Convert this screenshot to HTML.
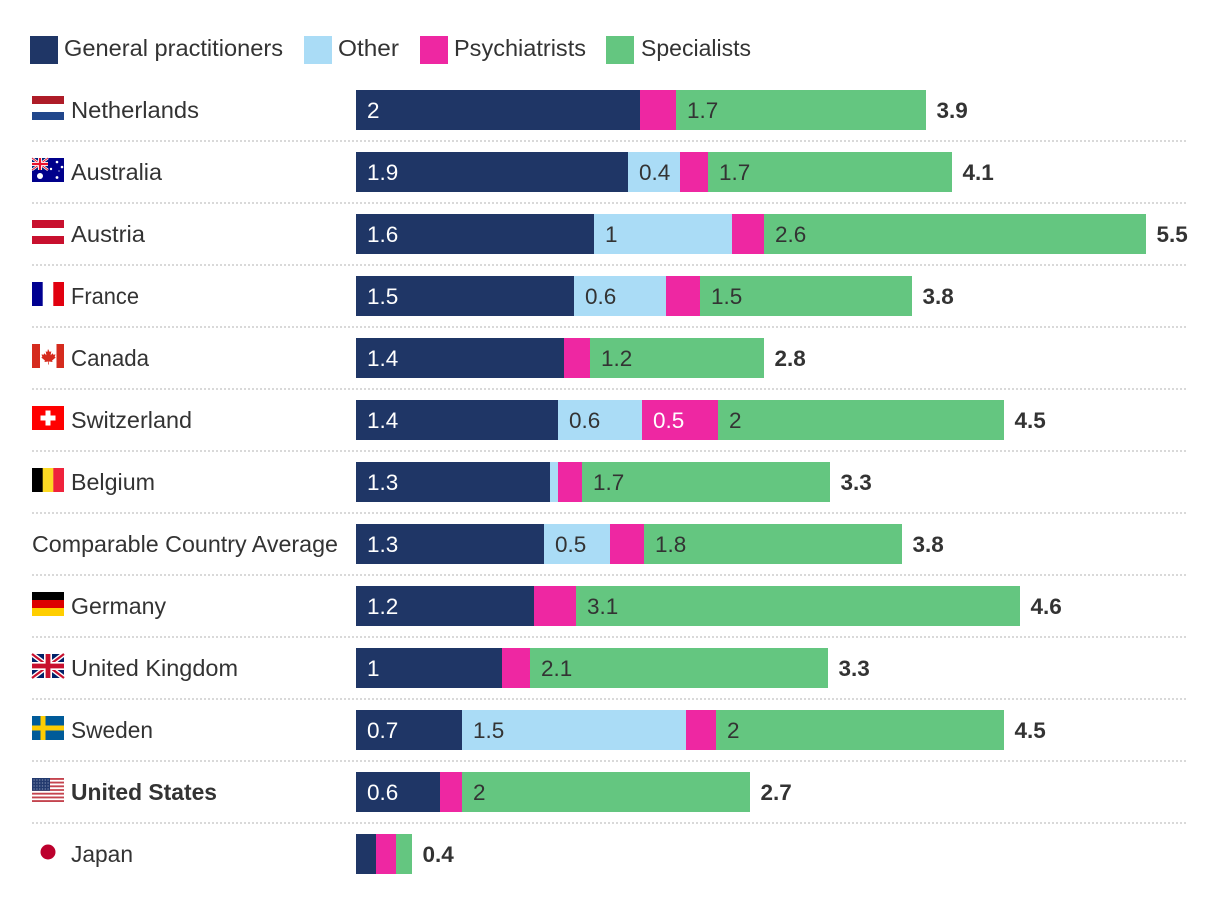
<!DOCTYPE html>
<html lang="en">
<head>
<meta charset="utf-8">
<title>Physicians per 1,000 population by type</title>
<style>
html,body{margin:0;padding:0;background:#fff;width:1220px;height:906px;overflow:hidden}
svg{display:block}
text{font-family:"Liberation Sans",Arial,sans-serif;font-size:23px;fill:#333}
text.num{font-size:22.5px}
</style>
</head>
<body>
<svg id="chart" xmlns="http://www.w3.org/2000/svg" width="1220" height="906" viewBox="0 0 1220 906">
  <g id="legend">
    <g>
      <rect x="30" y="36" width="28" height="28" fill="#1f3666"/>
      <text x="64" y="56" textLength="219" lengthAdjust="spacingAndGlyphs">General practitioners</text>
    </g>
    <g>
      <rect x="304" y="36" width="28" height="28" fill="#aadcf6"/>
      <text x="338" y="56" textLength="61" lengthAdjust="spacingAndGlyphs">Other</text>
    </g>
    <g>
      <rect x="420" y="36" width="28" height="28" fill="#ee27a2"/>
      <text x="454" y="56" textLength="132" lengthAdjust="spacingAndGlyphs">Psychiatrists</text>
    </g>
    <g>
      <rect x="606" y="36" width="28" height="28" fill="#64c680"/>
      <text x="641" y="56" textLength="110" lengthAdjust="spacingAndGlyphs">Specialists</text>
    </g>
  </g>

  <g id="flags">
    <g transform="translate(32,96)">
      <rect width="32" height="8" fill="#ae1c28"/><rect y="16" width="32" height="8" fill="#21468b"/>
    </g>
    <g transform="translate(32,158)">
      <rect width="32" height="24" fill="#00008b"/>
      <rect width="16" height="12" fill="#00247d"/>
      <path d="M0 0L16 12M16 0L0 12" stroke="#fff" stroke-width="2.4"/>
      <path d="M0 0L16 12M16 0L0 12" stroke="#e8112d" stroke-width="0.9"/>
      <path d="M8 0V12M0 6H16" stroke="#fff" stroke-width="4"/>
      <path d="M8 0V12M0 6H16" stroke="#e8112d" stroke-width="2.2"/>
      <circle cx="8" cy="18" r="3" fill="#fff"/>
      <circle cx="25" cy="4" r="1.3" fill="#fff"/><circle cx="30" cy="9" r="1.3" fill="#fff"/>
      <circle cx="19" cy="11" r="1.2" fill="#fff"/><circle cx="25" cy="19.5" r="1.4" fill="#fff"/>
      <circle cx="27" cy="13" r="0.6" fill="#fff"/>
    </g>
    <g transform="translate(32,220)">
      <rect width="32" height="8" fill="#c8102e"/><rect y="16" width="32" height="8" fill="#c8102e"/>
    </g>
    <g transform="translate(32,282)">
      <rect width="10.700" height="24" fill="#000091"/><rect x="21.300" width="10.700" height="24" fill="#e1000f"/>
    </g>
    <g transform="translate(32,344)">
      <rect width="8" height="24" fill="#d52b1e"/><rect x="24.500" width="7.500" height="24" fill="#d52b1e"/>
      <path d="M16 5l1.700 3 1.600-.8-.7 4 2.200-2 .5 1.500 2.200-.3-.8 2.500 1 .6-3.600 3 .4 1.500-3.700-.5.100 3h-.8l.1-3-3.700.5.400-1.500-3.600-3 1-.6-.8-2.500 2.200.3.500-1.500 2.200 2-.7-4 1.600.8z" fill="#d52b1e"/>
    </g>
    <g transform="translate(32,406)">
      <rect width="32" height="24" fill="#ff0000"/>
      <rect x="13.500" y="4.500" width="5" height="15" fill="#fff"/><rect x="8.500" y="9.500" width="15" height="5" fill="#fff"/>
    </g>
    <g transform="translate(32,468)">
      <rect width="11" height="24" fill="#000"/><rect x="10.700" width="10.700" height="24" fill="#fdda24"/><rect x="21.300" width="10.700" height="24" fill="#ef233c"/>
    </g>
    <g transform="translate(32,592)">
      <rect width="32" height="8" fill="#000"/><rect y="8" width="32" height="8" fill="#dd0000"/><rect y="16" width="32" height="8" fill="#ffce00"/>
    </g>
    <g transform="translate(32,654)">
      <rect width="32" height="24" fill="#012169"/>
      <path d="M0 0L32 24M32 0L0 24" stroke="#fff" stroke-width="5"/>
      <path d="M0 0L32 24M32 0L0 24" stroke="#c8102e" stroke-width="2.200"/>
      <path d="M16 0V24M0 12H32" stroke="#fff" stroke-width="8"/>
      <path d="M16 0V24M0 12H32" stroke="#c8102e" stroke-width="4.800"/>
    </g>
    <g transform="translate(32,716)">
      <rect width="32" height="24" fill="#005b99"/>
      <rect x="8.500" width="5" height="24" fill="#fecc02"/><rect y="9.500" width="32" height="5" fill="#fecc02"/>
    </g>
    <g transform="translate(32,778)">
      <rect width="32" height="24" fill="#fff"/>
      <path d="M0 .9H32M0 4.600H32M0 8.300H32M0 12H32M0 15.700H32M0 19.400H32M0 23.100H32" stroke="#c4444f" stroke-width="1.850"/>
      <rect width="18" height="12.800" fill="#233a6e"/>
      <path d="M1.500 2H17M1.500 5H17M1.500 8H17M1.500 11H17" stroke="#8f9dbb" stroke-width="1.100" stroke-dasharray="1.200 1.600"/>
    </g>
    <g transform="translate(32,840)">
      <circle cx="16" cy="12" r="7.500" fill="#bc002d"/>
    </g>
  </g>

  <g id="separators"></g>
  <g id="rows"></g>
</svg>

<script>
const countries = ["Netherlands","Australia","Austria","France","Canada","Switzerland","Belgium","Comparable Country Average","Germany","United Kingdom","Sweden","United States","Japan"];
const gpValues    = [1.977,1.894,1.657,1.518,1.448,1.406,1.351,1.309,1.239,1.016,0.738,0.585,0.139];
const otherValues = [0,0.362,0.961,0.641,0,0.585,0.056,0.459,0,0,1.559,0,0];
const psychValues = [0.251,0.195,0.223,0.237,0.181,0.529,0.167,0.237,0.292,0.195,0.209,0.153,0.139];
const specValues  = [1.741,1.699,2.659,1.476,1.211,1.991,1.727,1.796,3.091,2.075,2.005,2.005,0.111];
const gpLabels    = ["2","1.9","1.6","1.5","1.4","1.4","1.3","1.3","1.2","1","0.7","0.6",""];
const otherLabels = ["","0.4","1","0.6","","0.6","","0.5","","","1.5","",""];
const psychLabels = ["","","","","","0.5","","","","","","",""];
const specLabels  = ["1.7","1.7","2.6","1.5","1.2","2","1.7","1.8","3.1","2.1","2","2",""];
const totalLabels = ["3.9","4.1","5.5","3.8","2.8","4.5","3.3","3.8","4.6","3.3","4.5","2.7","0.4"];
const boldCountries = ["United States"];
const seriesNames = ["general-practitioners","other","psychiatrists","specialists"];
const seriesColors = ["#1f3666","#aadcf6","#ee27a2","#64c680"];
const seriesTextColors = ["#fff","#333","#fff","#333"];

const NS = "http://www.w3.org/2000/svg";
const xDomainMax = 5.5;
const countryLabelFit = {"Netherlands":128,"Australia":91,"Austria":74,"France":68,"Canada":78,"Switzerland":121,"Belgium":84,"Comparable Country Average":306,"Germany":95,"United Kingdom":167,"Sweden":82,"United States":146,"Japan":62};
function xScale(v){ return Math.round(356 + v / xDomainMax * 790); }
function rowTop(i){ return 90 + i * 62; }

const rowsLayer = document.getElementById("rows");
const sepLayer = document.getElementById("separators");
const seriesValues = [gpValues, otherValues, psychValues, specValues];
const seriesLabels = [gpLabels, otherLabels, psychLabels, specLabels];

countries.forEach(function(country, i){
  const top = rowTop(i);
  const baseline = top + 28;

  if (i < countries.length - 1) {
    const sep = document.createElementNS(NS,"line");
    
    
    sep.setAttribute("x1", 32);
    sep.setAttribute("x2", 1188);
    sep.setAttribute("y1", top + 51);
    sep.setAttribute("y2", top + 51);
    sep.setAttribute("stroke", "#d9d9d9");
    sep.setAttribute("stroke-width", 2);
    sep.setAttribute("stroke-dasharray", "2 2");
    sepLayer.appendChild(sep);
  }

  const label = document.createElementNS(NS,"text");
  
  
  label.setAttribute("x", country === "Comparable Country Average" ? 32 : 71);
  label.setAttribute("y", baseline);
  label.setAttribute("textLength", countryLabelFit[country]);
  label.setAttribute("lengthAdjust", "spacingAndGlyphs");
  if (boldCountries.indexOf(country) >= 0) label.setAttribute("font-weight", "700");
  label.textContent = country;
  rowsLayer.appendChild(label);

  let cum = 0;
  seriesValues.forEach(function(values, s){
    const v = values[i];
    if (v <= 0) return;
    const x0 = xScale(cum);
    const x1 = xScale(cum + v);
    cum += v;
    const rect = document.createElementNS(NS,"rect");
    
    
    rect.setAttribute("data-series", seriesNames[s]);
    rect.setAttribute("x", x0);
    rect.setAttribute("y", top);
    rect.setAttribute("width", x1 - x0);
    rect.setAttribute("height", 40);
    rect.setAttribute("fill", seriesColors[s]);
    rowsLayer.appendChild(rect);
    const txt = seriesLabels[s][i];
    if (txt) {
      const t = document.createElementNS(NS,"text");
      
      
      t.setAttribute("class", "num");
      t.setAttribute("x", x0 + 11);
      t.setAttribute("y", baseline);
      t.style.fill = seriesTextColors[s];
      t.textContent = txt;
      rowsLayer.appendChild(t);
    }
  });

  const total = document.createElementNS(NS,"text");
  
  
  total.setAttribute("class", "num");
  total.setAttribute("x", xScale(cum) + 10.5);
  total.setAttribute("y", baseline);
  total.setAttribute("font-weight", "700");
  total.textContent = totalLabels[i];
  rowsLayer.appendChild(total);
});
</script>
</body>
</html>
